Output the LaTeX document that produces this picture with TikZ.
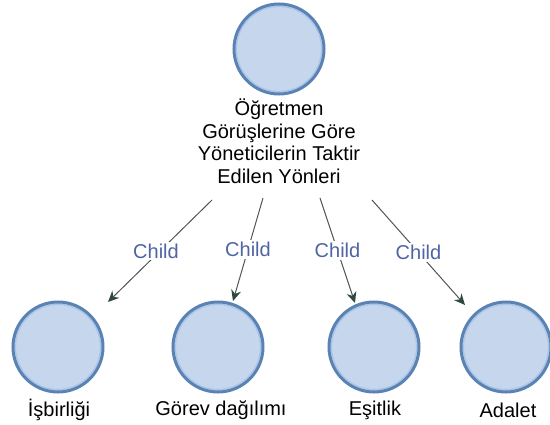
\documentclass[tikz,border=0pt]{standalone}
\usepackage{fontspec}
\setmainfont{Liberation Sans}
\usetikzlibrary{arrows.meta}
\definecolor{circfill}{HTML}{C6D6EC}
\definecolor{circline}{HTML}{5A83B3}
\definecolor{circinner}{HTML}{A9C5EA}
\definecolor{edgeline}{HTML}{505553}
\definecolor{tipcol}{HTML}{2F4A3C}
\definecolor{childcol}{HTML}{4F64A4}
\tikzset{
  bubble/.style={circle, fill=circfill, draw=circline, line width=3pt, minimum size=90pt, inner sep=0pt,
    path picture={\draw[circinner, line width=1.3pt] (path picture bounding box.center) circle (42.6pt);}},
  caption/.style={font=\fontsize{20}{22.5}\selectfont, text=black, inner sep=1pt},
  rel/.style={draw=edgeline, line width=1pt, -{Stealth[length=11pt,width=10pt,fill=tipcol,color=tipcol]}},
  childlab/.style={font=\fontsize{20}{22}\selectfont, text=childcol, fill=white, inner sep=2pt}
}
\begin{document}
\begin{tikzpicture}[x=1pt,y=-1pt]
\useasboundingbox (0,0) rectangle (550,425);
% nodes
\node[bubble] (top) at (279,49) {};
\node[caption, align=center] (title) at (279,141)
  {Öğretmen\\Görüşlerine Göre\\Yöneticilerin Taktir\\Edilen Yönleri};
\node[bubble] (c1) at (58,347) {};
\node[bubble] (c2) at (218,347) {};
\node[bubble] (c3) at (374,347) {};
\node[bubble] (c4) at (506,347) {};
\node[caption] (l1) at (59,410) {İşbirliği};
\node[caption] (l2) at (221,410) {Görev dağılımı};
\node[caption] (l3) at (375,410) {Eşitlik};
\node[caption] (l4) at (508,410) {Adalet};
% connector ends
\coordinate (s1) at (212,200);
\coordinate (e1) at (108,302);
\coordinate (s2) at (263,198);
\coordinate (e2) at (233,301);
\coordinate (s3) at (320,198);
\coordinate (e3) at (355,303);
\coordinate (s4) at (372,200);
\coordinate (e4) at (465,305);
% connectors
\draw[rel] (s1) -- node[childlab, xshift=-4pt] (k1) {Child} (e1);
\draw[rel] (s2) -- node[childlab] (k2) {Child} (e2);
\draw[rel] (s3) -- node[childlab] (k3) {Child} (e3);
\draw[rel] (s4) -- node[childlab] (k4) {Child} (e4);
\end{tikzpicture}
\end{document}
